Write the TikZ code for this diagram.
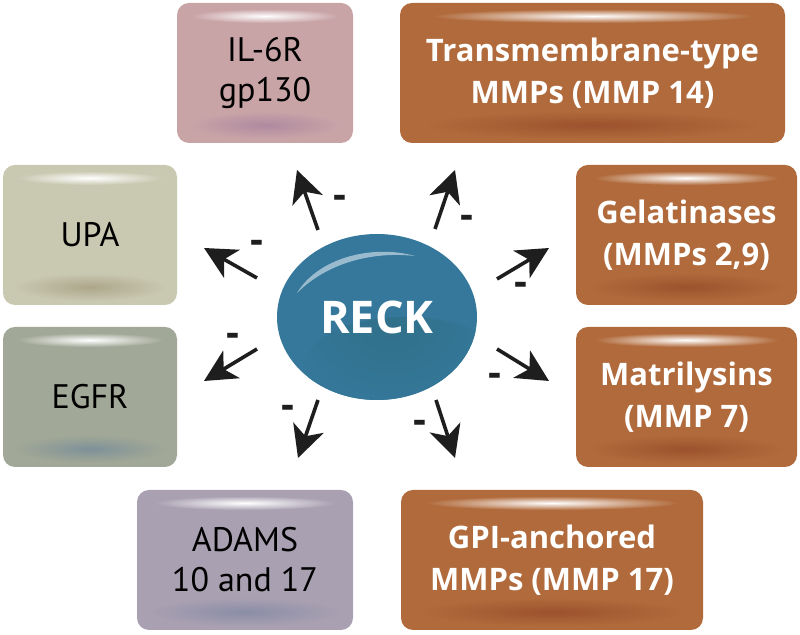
\documentclass[tikz,border=0pt]{standalone}
\usepackage{fontspec}
\setmainfont{PT Sans}
\newfontfamily\heavyfam{Open Sans}
\usepackage{xcolor}
\usepackage{tikz}
\usetikzlibrary{positioning,arrows.meta,shapes.geometric,calc}

\definecolor{pinkbox}{HTML}{C9A4A7}
\definecolor{pinkshade}{HTML}{AE8AA0}
\definecolor{brownbox}{HTML}{B06A3B}
\definecolor{brownshade}{HTML}{9C522D}
\definecolor{olivebox}{HTML}{C9C8B1}
\definecolor{oliveshade}{HTML}{ADA68A}
\definecolor{sagebox}{HTML}{A2A897}
\definecolor{sageshade}{HTML}{7E9198}
\definecolor{mauvebox}{HTML}{A9A0B1}
\definecolor{mauveshade}{HTML}{8A8DA7}
\definecolor{reckblue}{HTML}{35789B}
\definecolor{reckshade}{HTML}{30708A}
\definecolor{arrowink}{HTML}{1E1E1E}

\begin{document}
\begin{tikzpicture}[x=0.5pt, y=-0.5pt,
  tile/.style n args={2}{fill=#1, rounded corners=6pt, align=center, inner sep=0pt,
    minimum height=70pt,
    path picture={
      \coordinate (pp_nw) at (path picture bounding box.north west);
      \coordinate (pp_se) at (path picture bounding box.south east);
      \shade[inner color=#2, outer color=#1] let \p1=(pp_nw), \p2=(pp_se) in
        ({0.5*(\x1+\x2)},{\y2+9pt}) ellipse [x radius={0.44*(\x2-\x1)}, y radius=7pt];
      \shade[inner color=white, outer color=#1] let \p1=(pp_nw), \p2=(pp_se) in
        ({0.5*(\x1+\x2)},{\y1-6.5pt}) ellipse [x radius={0.42*(\x2-\x1)}, y radius=3.5pt];
    }},
  darktext/.style={text=black, font=\fontsize{17}{20}\selectfont},
  lighttext/.style={text=white, font=\heavyfam\bfseries\fontsize{15.5}{21}\selectfont},
  inhib/.style={arrowink, line width=1.8pt, -{Stealth[length=16pt, width=16pt, inset=4.5pt]}},
  minus/.style={text=arrowink, font=\heavyfam\bfseries\fontsize{20}{20}\selectfont,
    inner sep=0pt, yshift=-2.5pt}]

\useasboundingbox (0,0) rectangle (800,635);

\node[tile={pinkbox}{pinkshade}, darktext, minimum width=88pt] (il6r) at (265,73) {IL-6R\\gp130};
\node[tile={brownbox}{brownshade}, lighttext, minimum width=192.5pt] (transmem) at (592.5,73) {Transmembrane-type\\MMPs (MMP 14)};
\node[tile={olivebox}{oliveshade}, darktext, minimum width=87pt] (upa) at (90,235) {UPA};
\node[tile={brownbox}{brownshade}, lighttext, minimum width=110.5pt] (gelat) at (686.5,235) {Gelatinases\\(MMPs 2,9)};
\node[tile={sagebox}{sageshade}, darktext, minimum width=87pt] (egfr) at (90,397) {EGFR};
\node[tile={brownbox}{brownshade}, lighttext, minimum width=110.5pt] (matril) at (686.5,397) {Matrilysins\\(MMP 7)};
\node[tile={mauvebox}{mauveshade}, darktext, minimum width=108pt] (adams) at (245,560) {ADAMS\\10 and 17};
\node[tile={brownbox}{brownshade}, lighttext, minimum width=151pt] (gpi) at (552,560) {GPI-anchored\\MMPs (MMP 17)};

\node[ellipse, fill=reckblue, minimum width=100pt, minimum height=83pt, inner sep=0pt,
  text=white, font=\heavyfam\bfseries\fontsize{22.5}{27}\selectfont,
  path picture={
    \shade[inner color=reckshade, outer color=reckblue]
      ([shift={(14pt,-24pt)}]path picture bounding box.center) ellipse [x radius=50pt, y radius=24pt];
  }] (reck) at (377,317) {RECK};
\fill[white, opacity=0.5] (297,293) .. controls (318,258) and (372,244) .. (415,256)
  .. controls (370,251) and (326,264) .. (297,293);

\coordinate (il6r_tail) at (318,230);
\coordinate (il6r_tip) at (297,170);
\coordinate (transmem_tail) at (435,229);
\coordinate (transmem_tip) at (455,170);
\coordinate (gelat_tail) at (497,279);
\coordinate (gelat_tip) at (549,248);
\coordinate (matril_tail) at (497,349);
\coordinate (matril_tip) at (549,381);
\coordinate (gpi_tail) at (436,400);
\coordinate (gpi_tip) at (455,458);
\coordinate (adams_tail) at (318,400);
\coordinate (adams_tip) at (298,458);
\coordinate (egfr_tail) at (257,349);
\coordinate (egfr_tip) at (204,381);
\coordinate (upa_tail) at (257,278);
\coordinate (upa_tip) at (204,248);

\draw[inhib] (il6r_tail) -- (il6r_tip);
\draw[inhib] (transmem_tail) -- (transmem_tip);
\draw[inhib] (gelat_tail) -- (gelat_tip);
\draw[inhib] (matril_tail) -- (matril_tip);
\draw[inhib] (gpi_tail) -- (gpi_tip);
\draw[inhib] (adams_tail) -- (adams_tip);
\draw[inhib] (egfr_tail) -- (egfr_tip);
\draw[inhib] (upa_tail) -- (upa_tip);

\node[minus] (il6r_minus) at (340,197) {-};
\node[minus] (transmem_minus) at (467,217) {-};
\node[minus] (gelat_minus) at (521,284) {-};
\node[minus] (matril_minus) at (495,375) {-};
\node[minus] (gpi_minus) at (420,422) {-};
\node[minus] (adams_minus) at (288,407) {-};
\node[minus] (egfr_minus) at (233,335) {-};
\node[minus] (upa_minus) at (257,242) {-};

\end{tikzpicture}
\end{document}
